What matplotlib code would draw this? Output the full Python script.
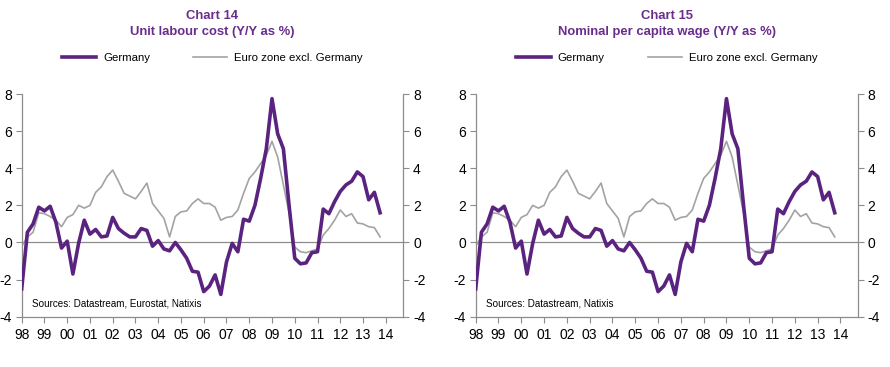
import matplotlib

matplotlib.use("Agg")
import matplotlib.pyplot as plt
import numpy as np

plt.rcParams["font.family"] = ["Liberation Sans", "DejaVu Sans"]
plt.rcParams["axes.unicode_minus"] = False

# Quarterly data, 1998Q1 -> 2013Q4 (Y/Y, %)
germany = [
    -2.5, 0.55, 1.0, 1.9, 1.7, 1.95, 1.1, -0.3,
    0.07, -1.7, -0.05, 1.2, 0.45, 0.7, 0.3, 0.35,
    1.35, 0.75, 0.5, 0.3, 0.3, 0.75, 0.65, -0.2,
    0.1, -0.35, -0.45, 0.0, -0.4, -0.85, -1.55, -1.6,
    -2.65, -2.35, -1.75, -2.8, -1.05, -0.05, -0.5, 1.25,
    1.15, 2.0, 3.45, 5.05, 7.75, 5.85, 5.05, 2.0,
    -0.85, -1.15, -1.1, -0.55, -0.5, 1.8, 1.55, 2.2,
    2.75, 3.1, 3.3, 3.8, 3.55, 2.3, 2.7, 1.6,
]
euro_ex_de = [
    -0.2, 0.3, 0.55, 1.6, 1.55, 1.4, 1.2, 0.85,
    1.35, 1.5, 2.0, 1.85, 2.0, 2.7, 3.0, 3.55,
    3.9, 3.3, 2.65, 2.5, 2.35, 2.75, 3.2, 2.1,
    1.7, 1.3, 0.3, 1.4, 1.65, 1.7, 2.1, 2.35,
    2.1, 2.1, 1.9, 1.2, 1.35, 1.4, 1.75, 2.65,
    3.45, 3.8, 4.25, 4.7, 5.45, 4.6, 3.1, 1.6,
    -0.25, -0.5, -0.55, -0.45, -0.35, 0.4, 0.75, 1.2,
    1.75, 1.4, 1.55, 1.05, 1.0, 0.85, 0.8, 0.3,
]
year_labels = ["98", "99", "00", "01", "02", "03", "04", "05",
               "06", "07", "08", "09", "10", "11", "12", "13", "14"]
y_ticks = [-4, -2, 0, 2, 4, 6, 8]

charts = [
    ("Chart 14", "Unit labour cost (Y/Y as %)", "Sources: Datastream, Eurostat, Natixis"),
    ("Chart 15", "Nominal per capita wage (Y/Y as %)", "Sources: Datastream, Natixis"),
]

PURPLE = "#5b2380"
TITLE = "#6a2d8c"
GREY = "#a3a3a3"
AXIS = "#8c8c8c"

W, H = 890, 367
fig = plt.figure(figsize=(W / 100, H / 100), dpi=100)

dates = 1998 + np.arange(len(germany)) / 4
years = 1998 + np.arange(len(year_labels))

# axes boxes in pixels: (left, right)
boxes = [(21.7, 403.3), (475.7, 858.0)]
top_px, bottom_px = 94.0, 316.7

for (title1, title2, source), (x0, x1) in zip(charts, boxes):
    ax = fig.add_axes([x0 / W, 1 - bottom_px / H, (x1 - x0) / W, (bottom_px - top_px) / H])
    ax.axhline(0, color=AXIS, lw=0.9, zorder=1)
    ax.plot(dates, euro_ex_de, color=GREY, lw=1.2, label="Euro zone excl. Germany", zorder=2)
    ax.plot(dates, germany, color=PURPLE, lw=2.6, label="Germany", zorder=3)

    ax.set_xlim(1998, 2014.77)
    ax.set_ylim(-4, 8)
    ax.set_xticks(years)
    ax.set_xticklabels(year_labels)
    ax.set_yticks(y_ticks)
    ax.set_yticklabels([str(v) for v in y_ticks])
    ax.tick_params(axis="y", which="both", left=True, right=True,
                   labelleft=True, labelright=True, length=4, color=AXIS,
                   labelsize=10, pad=3)
    ax.tick_params(axis="x", length=4, color=AXIS, labelsize=10, pad=4)
    ax.spines["top"].set_visible(False)
    for side in ("left", "right", "bottom"):
        ax.spines[side].set_color(AXIS)
        ax.spines[side].set_linewidth(0.9)

    ax.text(0.028, 0.035, source, transform=ax.transAxes, fontsize=7.1, va="bottom")

    cx = (x0 + x1) / 2 / W
    fig.text(cx, 1 - 16 / H, title1, ha="center", va="center",
             fontsize=9.4, fontweight="bold", color=TITLE)
    fig.text(cx, 1 - 32 / H, title2, ha="center", va="center",
             fontsize=9.4, fontweight="bold", color=TITLE)

    handles, labels = ax.get_legend_handles_labels()
    ax.legend(handles[::-1], labels[::-1], loc="center", ncol=2, frameon=False,
              bbox_to_anchor=(cx, 1 - 58 / H), bbox_transform=fig.transFigure,
              fontsize=8.2, handlelength=3.0, handletextpad=0.6, columnspacing=3.8)

fig.savefig("out.png", dpi=100)
